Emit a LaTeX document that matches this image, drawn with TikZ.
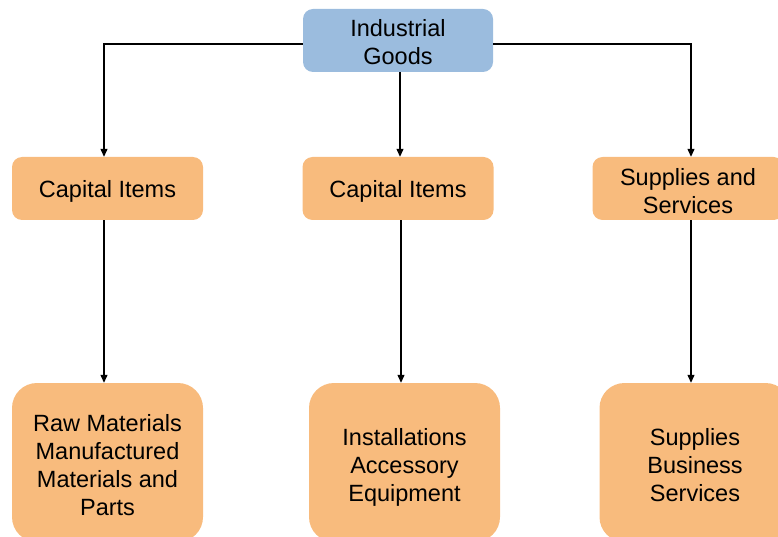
\documentclass[tikz,border=0pt]{standalone}
\usepackage{fontspec}
\setmainfont{Liberation Sans}
\usetikzlibrary{arrows.meta}
\definecolor{boxorange}{HTML}{F8BB7D}
\definecolor{boxblue}{HTML}{9BBCDE}
\tikzset{
  txt/.style={align=center, inner sep=0pt, font=\fontsize{23.5}{28}\selectfont},
  topbox/.style={rectangle, fill=boxblue, rounded corners=10pt, minimum width=190pt, minimum height=63pt},
  midbox/.style={rectangle, fill=boxorange, rounded corners=10pt, minimum width=191pt, minimum height=63pt},
  lowbox/.style={rectangle, fill=boxorange, rounded corners=25pt, minimum width=191pt, minimum height=159pt},
  arr/.style={draw=black, line width=1.2pt, -{Triangle[length=8pt,width=7pt]}}
}
\begin{document}
\begin{tikzpicture}[x=1pt,y=-1pt]
\useasboundingbox (0,0) rectangle (778,537);
\clip (0,0) rectangle (778,537);
\node[topbox] (top) at (398,40.5) {};
\node[midbox] (m1) at (107.5,188.5) {};
\node[midbox] (m2) at (398,188.5) {};
\node[midbox] (m3) at (688,188.5) {};
\node[lowbox] (b1) at (107.5,462.5) {};
\node[lowbox] (b2) at (404.5,462.5) {};
\node[lowbox] (b3) at (695,462.5) {};
\node[txt] (topt) at ([yshift=-2pt]top.center) {Industrial\\Goods};
\node[txt] (m1t) at ([yshift=-3pt]m1.center) {Capital Items};
\node[txt] (m2t) at ([yshift=-3pt]m2.center) {Capital Items};
\node[txt] (m3t) at ([yshift=-3pt]m3.center) {Supplies and\\Services};
\node[txt] (b1t) at ([yshift=-3pt]b1.center) {Raw Materials\\Manufactured\\Materials and\\Parts};
\node[txt] (b2t) at ([yshift=-5pt]b2.center) {Installations\\Accessory\\Equipment};
\node[txt] (b3t) at ([yshift=-3pt]b3.center) {Supplies\\Business\\Services};
\draw[arr] ([yshift=-3.5pt]top.west) -| ([xshift=-3.5pt]m1.north);
\draw[arr] ([yshift=-3.5pt]top.east) -| ([xshift=3pt]m3.north);
\draw[arr] ([xshift=2pt]top.south) -- ([xshift=2pt]m2.north);
\draw[arr] ([xshift=-3.5pt]m1.south) -- ([xshift=-3.5pt]b1.north);
\draw[arr] ([xshift=3pt]m2.south) -- ([xshift=-3.5pt]b2.north);
\draw[arr] ([xshift=3pt]m3.south) -- ([xshift=-4pt]b3.north);
\end{tikzpicture}
\end{document}
